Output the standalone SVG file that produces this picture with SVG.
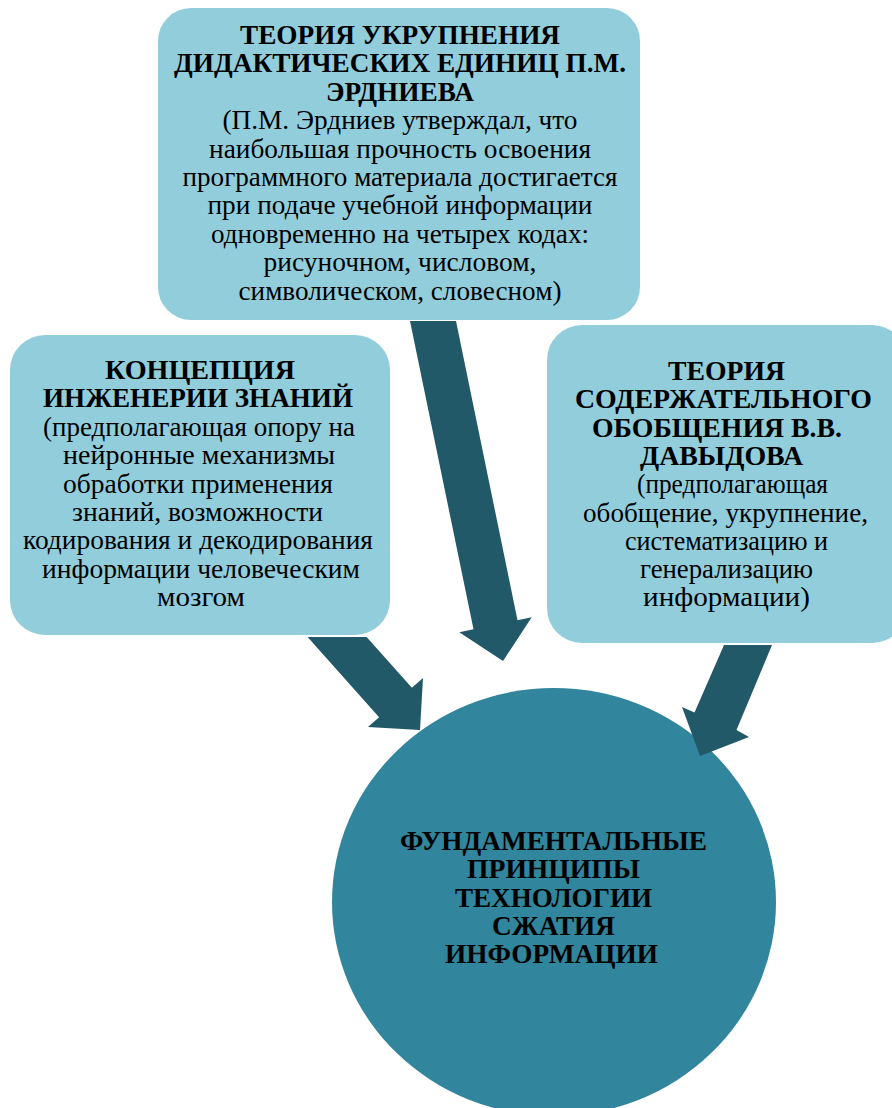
<svg xmlns="http://www.w3.org/2000/svg" width="892" height="1108" viewBox="0 0 892 1108">
<style>
.box{fill:#92CDDC;}
.hub{fill:#31859C;}
.arrow{fill:#215968;}
.t{font-size:27px;fill:#000;text-anchor:middle;}
.b{font-weight:bold;}
</style>
<rect width="892" height="1108" fill="#ffffff"/>
<g id="hub">
<ellipse class="hub" cx="554" cy="902" rx="222" ry="214"/>
<g class="t" font-family="'Liberation Serif', 'Times New Roman', serif">
<text class="b" x="553.5" y="850" textLength="307" lengthAdjust="spacingAndGlyphs">ФУНДАМЕНТАЛЬНЫЕ</text>
<text class="b" x="553.5" y="878.3" textLength="173" lengthAdjust="spacingAndGlyphs">ПРИНЦИПЫ</text>
<text class="b" x="553.5" y="906.6" textLength="197" lengthAdjust="spacingAndGlyphs">ТЕХНОЛОГИИ</text>
<text class="b" x="553.5" y="934.9" textLength="123" lengthAdjust="spacingAndGlyphs">СЖАТИЯ</text>
<text class="b" x="551.5" y="963.2" textLength="213" lengthAdjust="spacingAndGlyphs">ИНФОРМАЦИИ</text>
</g>
</g>
<g id="connectors">
<polygon class="arrow" points="410,321 456,321 517.5,620.3 531.7,617.3 503,661 459.3,632.3 473.5,629.3"/>
<polygon class="arrow" points="307.6,637 366.6,637 411.9,687.8 423,678 420,730 368,727 379.1,717.2"/>
<polygon class="arrow" points="724,645 772,645 736.5,730 749,737 700,756 682,707 694.5,712.5"/>
</g>
<g id="top-box">
<rect class="box" x="158" y="8" width="482" height="312" rx="33"/>
<g class="t" font-family="'Liberation Serif', 'Times New Roman', serif">
<text class="b" x="400" y="44" textLength="320" lengthAdjust="spacingAndGlyphs">ТЕОРИЯ УКРУПНЕНИЯ</text>
<text class="b" x="400" y="72.4" textLength="452" lengthAdjust="spacingAndGlyphs">ДИДАКТИЧЕСКИХ ЕДИНИЦ П.М.</text>
<text class="b" x="400" y="100.8" textLength="148" lengthAdjust="spacingAndGlyphs">ЭРДНИЕВА</text>
<text x="400" y="129.2" textLength="355" lengthAdjust="spacingAndGlyphs">(П.М. Эрдниев утверждал, что</text>
<text x="400" y="157.6" textLength="382" lengthAdjust="spacingAndGlyphs">наибольшая прочность освоения</text>
<text x="400" y="186" textLength="435" lengthAdjust="spacingAndGlyphs">программного материала достигается</text>
<text x="400" y="214.4" textLength="385" lengthAdjust="spacingAndGlyphs">при подаче учебной информации</text>
<text x="400" y="242.8" textLength="378" lengthAdjust="spacingAndGlyphs">одновременно на четырех кодах:</text>
<text x="400" y="271.2" textLength="273" lengthAdjust="spacingAndGlyphs">рисуночном, числовом,</text>
<text x="400" y="299.6" textLength="323" lengthAdjust="spacingAndGlyphs">символическом, словесном)</text>
</g>
</g>
<g id="left-box">
<rect class="box" x="10" y="335" width="380" height="300" rx="35"/>
<g class="t" font-family="'Liberation Serif', 'Times New Roman', serif">
<text class="b" x="200" y="379" textLength="190" lengthAdjust="spacingAndGlyphs">КОНЦЕПЦИЯ</text>
<text class="b" x="198" y="407.4" textLength="310" lengthAdjust="spacingAndGlyphs">ИНЖЕНЕРИИ ЗНАНИЙ</text>
<text x="199" y="435.8" textLength="312" lengthAdjust="spacingAndGlyphs">(предполагающая опору на</text>
<text x="199" y="464.2" textLength="272" lengthAdjust="spacingAndGlyphs">нейронные механизмы</text>
<text x="198" y="492.6" textLength="270" lengthAdjust="spacingAndGlyphs">обработки применения</text>
<text x="197.5" y="521" textLength="251" lengthAdjust="spacingAndGlyphs">знаний, возможности</text>
<text x="198" y="549.4" textLength="350" lengthAdjust="spacingAndGlyphs">кодирования и декодирования</text>
<text x="201" y="577.8" textLength="318" lengthAdjust="spacingAndGlyphs">информации человеческим</text>
<text x="201" y="606.2" textLength="88" lengthAdjust="spacingAndGlyphs">мозгом</text>
</g>
</g>
<g id="right-box">
<rect class="box" x="547" y="325" width="360" height="318" rx="35"/>
<g class="t" font-family="'Liberation Serif', 'Times New Roman', serif">
<text class="b" x="726.5" y="380" textLength="117" lengthAdjust="spacingAndGlyphs">ТЕОРИЯ</text>
<text class="b" x="723.5" y="408.3" textLength="297" lengthAdjust="spacingAndGlyphs">СОДЕРЖАТЕЛЬНОГО</text>
<text class="b" x="717" y="436.6" textLength="250" lengthAdjust="spacingAndGlyphs">ОБОБЩЕНИЯ В.В.</text>
<text class="b" x="721.5" y="464.9" textLength="163" lengthAdjust="spacingAndGlyphs">ДАВЫДОВА</text>
<text x="732.5" y="493.2" textLength="191" lengthAdjust="spacingAndGlyphs">(предполагающая</text>
<text x="725.5" y="521.5" textLength="285" lengthAdjust="spacingAndGlyphs">обобщение, укрупнение,</text>
<text x="726.5" y="549.8" textLength="203" lengthAdjust="spacingAndGlyphs">систематизацию и</text>
<text x="726.5" y="578.1" textLength="173" lengthAdjust="spacingAndGlyphs">генерализацию</text>
<text x="726.5" y="606.4" textLength="167" lengthAdjust="spacingAndGlyphs">информации)</text>
</g>
</g>
</svg>
